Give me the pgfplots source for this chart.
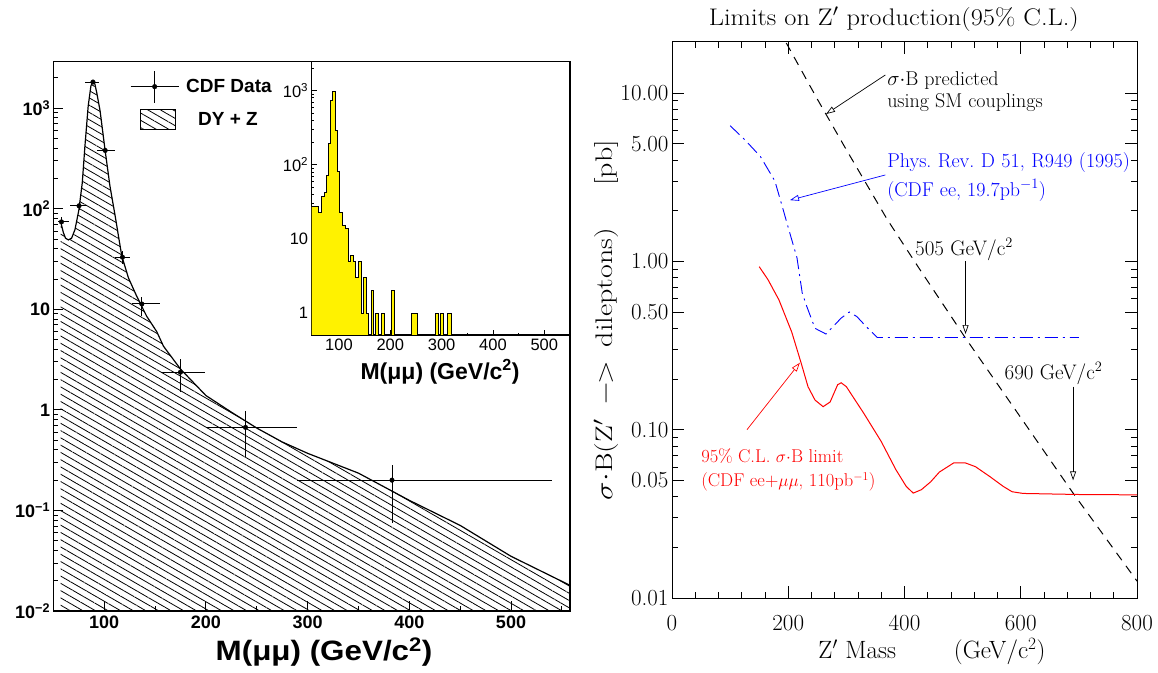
\documentclass[border=0pt]{standalone}
\usepackage{fontspec}
\setsansfont{Liberation Sans}
\usepackage{pgfplots}
\usepackage{pgfplotstable}
\pgfplotsset{compat=1.18}
\usetikzlibrary{patterns.meta,arrows.meta}

\newcommand{\lfont}[1]{\sffamily\bfseries\fontsize{#1}{#1}\selectfont}
\newcommand{\rfont}[1]{\rmfamily\fontsize{#1}{#1}\selectfont}

% DY + Z expectation curve
\pgfplotstableread{
m v
57.3 74
59.9 58
62 51
64.8 49
68 51
71.3 62
75.2 98
78.5 182
81.1 420
84.3 1050
87 1670
89.3 1870
90.8 1750
92.7 1430
96 940
100.8 390
105.7 168
110.8 85
117.3 34
123.9 20.5
132 13.5
141.9 8.5
151.7 6.0
158.3 4.3
175 2.55
200 1.39
225 0.95
250 0.66
275 0.48
300 0.37
350 0.235
400 0.126
450 0.071
500 0.035
558 0.018
}\dyz

% CDF data points
\pgfplotstableread{
m v xm xp ym yp
58 74 3 7 8 8
75.3 107 9 8 10 10
89 1820 8 6 40 40
101 380 8 10 20 20
118 33 7 7 5 5
137 11.3 10 18 2.8 2.1
175 2.37 19 24.4 0.87 0.83
239 0.67 38.5 51 0.33 0.31
383 0.20 93 157 0.125 0.08
}\cdf

% Right panel curves
\pgfplotstableread{
m v
190 24.5
196 20
250 9.2
300 4.6
370 1.78
425 0.91
505 0.35
600 0.118
690 0.042
800 0.0126
}\smline

\pgfplotstableread{
m v
100 6.4
127 5.2
152 4.2
177 3.0
190 2.1
202 1.5
215 1.05
224 0.65
231 0.55
246 0.40
265 0.37
280 0.42
291 0.46
305 0.50
318 0.47
334 0.41
353 0.353
700 0.353
}\blueline

\pgfplotstableread{
m v
150 0.93
165 0.78
184 0.59
206 0.38
222 0.25
234 0.18
246 0.15
260 0.137
272 0.146
285 0.185
291 0.19
300 0.18
330 0.125
360 0.085
385 0.058
403 0.046
415 0.042
429 0.044
445 0.049
460 0.056
485 0.0636
504 0.0636
522 0.0603
547 0.0526
570 0.046
585 0.0428
604 0.0418
700 0.0412
800 0.041
}\redline

\begin{document}
\begin{tikzpicture}
\useasboundingbox (0pt,0pt) rectangle (1158pt,672pt);

%================ LEFT MAIN PANEL ================
\begin{axis}[
  at={(53.3pt,61pt)}, anchor=south west, scale only axis,
  width=516.7pt, height=549.3pt,
  xmin=50, xmax=558, ymode=log, ymin=0.01, ymax=2900,
  axis line style={line width=1.3pt},
  tick style={black, line width=1pt},
  tick align=inside, tick pos=left,
  major tick length=10pt, minor tick length=5pt,
  xtick={100,200,300,400,500}, minor xtick={150,250,350,450,550},
  ytick={0.01,0.1,1,10,100,1000},
  yticklabels={10\textsuperscript{−2},10\textsuperscript{−1},1,10,10\textsuperscript{2},10\textsuperscript{3}},
  minor ytick={0.02,0.03,0.04,0.05,0.06,0.07,0.08,0.09,0.2,0.3,0.4,0.5,0.6,0.7,0.8,0.9,2,3,4,5,6,7,8,9,20,30,40,50,60,70,80,90,200,300,400,500,600,700,800,900,2000},
  /pgf/number format/assume math mode=true,
  ticklabel style={font=\lfont{18}},
  yticklabel style={inner sep=3pt},
  xticklabel style={yshift=-1pt},
  xlabel={\scalebox{1.12}[1]{M(μμ) (GeV/c\textsuperscript{2})}},
  xlabel style={font=\lfont{28}, at={(axis description cs:0.524,-0.0746)}, anchor=center},
  legend style={draw=none, fill=none, at={(0.1484,0.985)}, anchor=north west,
     font=\lfont{19}, row sep=6pt, column sep=7pt, inner sep=0pt,
     nodes={inner sep=0pt}},
  legend cell align=left,
]
\addplot[draw=none, forget plot, pattern={Lines[angle=-30,distance=6.3pt,line width=0.8pt]}]
  table[x=m,y=v] {\dyz} -- (axis cs:558,0.005) -- (axis cs:57.3,0.005) -- cycle;
\addplot[black, line width=1.2pt, forget plot] table[x=m,y=v] {\dyz};
\addplot[black, only marks, mark=*, mark size=2.3pt, forget plot,
  error bars/.cd, x dir=both, x explicit, y dir=both, y explicit,
  error mark=none, error bar style={line width=1pt}]
  table[x=m, y=v, x error minus=xm, x error plus=xp, y error minus=ym, y error plus=yp] {\cdf};
\addlegendimage{legend image code/.code={
  \draw[line width=1pt] (0pt,0pt) -- (48pt,0pt);
  \draw[line width=1pt] (24pt,-16pt) -- (24pt,16pt);
  \fill (24pt,0pt) circle (2.3pt);}}
\addlegendentry{CDF Data}
\addlegendimage{legend image code/.code={
  \draw[line width=1pt, pattern={Lines[angle=-30,distance=6.3pt,line width=0.8pt]}] (10pt,-10pt) rectangle (45pt,10pt);}}
\addlegendentry{\hspace{12pt}DY + Z}
\end{axis}

%================ INSET ================
\begin{axis}[
  at={(311.7pt,337pt)}, anchor=south west, scale only axis,
  width=258.3pt, height=273.3pt,
  xmin=47, xmax=550, ymode=log, ymin=0.505, ymax=2460,
  axis line style={line width=1.3pt},
  tick style={black, line width=0.9pt},
  tick align=inside, tick pos=left,
  major tick length=5pt, minor tick length=2.5pt,
  xtick={100,200,300,400,500}, minor xtick={150,250,350,450},
  ytick={1,10,100,1000},
  yticklabels={1,10,10\textsuperscript{2},10\textsuperscript{3}},
  minor ytick={0.6,0.7,0.8,0.9,2,3,4,5,6,7,8,9,20,30,40,50,60,70,80,90,200,300,400,500,600,700,800,900,2000},
  /pgf/number format/assume math mode=true,
  ticklabel style={font=\sffamily\fontsize{16.5}{16.5}\selectfont},
  xlabel={M(μμ) (GeV/c\textsuperscript{2})},
  xlabel style={font=\lfont{23}, at={(axis description cs:0.497,-0.135)}, anchor=center},
]
\addplot[const plot mark left, fill=yellow, draw=black, line width=0.9pt] coordinates {
(47,0.3) (47,27) (60,23) (66.5,37) (71,42) (75,72) (79.5,192) (83,740) (87.5,980)
(92.5,290) (97,81) (102,23) (107,15) (112,14) (118,5) (123,6) (128,5) (133,3)
(138,5) (143,1) (148,3) (153,1) (158,0.3) (163,2) (167,0.3) (172,1) (177,0.3)
(182,1) (188,0.3) (202,2) (208,0.3) (242,1) (252,0.3) (288,1) (294,0.3) (297,1)
(304,0.3) (312,1) (319,0.3) (550,0.3)};
\end{axis}

%================ RIGHT PANEL ================
\begin{axis}[
  at={(672pt,74pt)}, anchor=south west, scale only axis,
  width=465pt, height=556pt,
  xmin=0, xmax=800, ymode=log, ymin=0.01, ymax=20.1,
  clip mode=individual,
  axis line style={line width=1pt},
  tick style={black, line width=0.8pt},
  tick align=inside,
  major tick length=12pt, minor tick length=6pt,
  xtick={0,200,400,600,800}, minor x tick num=4,
  ytick={0.01,0.05,0.1,0.5,1,5,10},
  yticklabels={0.01,0.05,0.10,0.50,1.00,5.00,10.00},
  minor ytick={0.02,0.03,0.04,0.06,0.07,0.08,0.09,0.2,0.3,0.4,0.6,0.7,0.8,0.9,2,3,4,6,7,8,9},
  /pgf/number format/assume math mode=true,
  ticklabel style={font=\rfont{23}},
  xticklabel style={yshift=-14pt},
  title={\scalebox{1.1}[1]{Limits on Z$'$ production(95\% C.L.)}},
  title style={font=\rfont{24}, at={(axis description cs:0.477,1.0304)}, anchor=center, yshift=0pt},
  xlabel={Z$'$ Mass\hspace{58pt}(GeV/c$^2$)},
  xlabel style={font=\rfont{25}, at={(axis description cs:0.559,-0.097)}, anchor=center},
  ylabel={\scalebox{1.25}[1]{$\sigma{\cdot}$B(Z$'$ \,$-$\kern-3pt$>$\, dileptons)\hspace{34pt}[pb]}},
  ylabel style={font=\rfont{24}, at={(axis description cs:-0.142,0.5)}, anchor=center, rotate=0},
]
\addplot[black, line width=1pt, dash pattern=on 9pt off 7pt] table[x=m,y=v] {\smline};
\addplot[blue, line width=0.9pt, dash pattern=on 13pt off 5pt on 2pt off 5pt] table[x=m,y=v] {\blueline};
\addplot[red, line width=1pt] table[x=m,y=v] {\redline};

% annotations
\node[anchor=west, inner sep=0pt, font=\rfont{20}] at (axis cs:370,11.8) {$\sigma{\cdot}$B predicted};
\node[anchor=west, inner sep=0pt, font=\rfont{20}] at (axis cs:370,8.8) {using SM couplings};
\draw[-{Triangle[open,length=9pt,width=6pt]}, line width=0.7pt] (axis cs:367,12.8) -- (axis cs:265,7.5);

\node[anchor=west, inner sep=0pt, font=\rfont{20}, text=blue] at (axis cs:370,3.89) {Phys.\hspace{6.5pt}Rev.\hspace{6.5pt}D\hspace{6.5pt}51,\hspace{6.5pt}R949\hspace{6.5pt}(1995)};
\node[anchor=west, inner sep=0pt, font=\rfont{20}, text=blue] at (axis cs:370,2.65) {(CDF ee, 19.7pb$^{-1}$)};
\draw[blue, -{Triangle[open,length=9pt,width=6pt]}, line width=0.7pt] (axis cs:367,3.26) -- (axis cs:203,2.31);

\node[anchor=west, inner sep=0pt, font=\rfont{21}] at (axis cs:418,1.18) {505 GeV/c$^2$};
\draw[-{Triangle[open,length=9pt,width=6pt]}, line width=0.7pt] (axis cs:505,1.0) -- (axis cs:505,0.37);

\node[anchor=west, inner sep=0pt, font=\rfont{21}] at (axis cs:572,0.216) {690 GeV/c$^2$};
\draw[-{Triangle[open,length=9pt,width=6pt]}, line width=0.7pt] (axis cs:690,0.18) -- (axis cs:690,0.05);

\node[anchor=west, inner sep=0pt, font=\rfont{18.5}, text=red] at (axis cs:50,0.0694) {95\% C.L. $\sigma{\cdot}$B limit};
\node[anchor=west, inner sep=0pt, font=\rfont{18.5}, text=red] at (axis cs:50,0.049) {(CDF ee+$\mu\mu$, 110pb$^{-1}$)};
\draw[red, -{Triangle[open,length=9pt,width=6pt]}, line width=0.7pt] (axis cs:129,0.10) -- (axis cs:220,0.25);
\end{axis}
\end{tikzpicture}
\end{document}
